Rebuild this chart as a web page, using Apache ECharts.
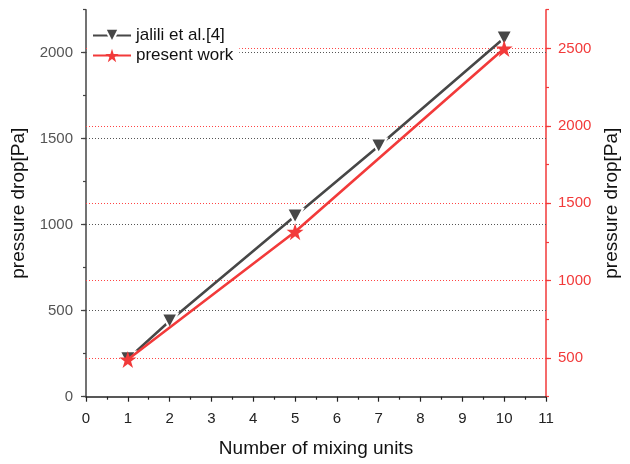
<!DOCTYPE html>
<html>
<head>
<meta charset="utf-8">
<script src="https://cdn.jsdelivr.net/npm/echarts@6/dist/echarts.min.js"></script>
<style>
  html, body { margin: 0; padding: 0; background: #fff; }
  #chart { width: 630px; height: 464px; }
</style>
</head>
<body>
<div id="chart"></div>
<script>
// Pressure drop against number of mixing units
const jaliliUnits = [1, 2, 5, 7, 10];
const jaliliDrop = [220, 440, 1050, 1458, 2085];
const presentUnits = [1, 5, 10];
const presentDrop = [490, 1315, 2500];

const xTicks = [0, 1, 2, 3, 4, 5, 6, 7, 8, 9, 10, 11];
const leftTicks = [0, 500, 1000, 1500, 2000];
const rightTicks = [500, 1000, 1500, 2000, 2500];
const leftGrid = [500, 1000, 1500, 2000];
const rightGrid = [500, 1000, 1500, 2000, 2500];

const GRAY = '#474747';
const RED = '#f23a3a';
const FONT = 'Liberation Sans, Arial, sans-serif';

const starPath = 'path://M10 0 L12.245 6.910 L19.511 6.910 L13.633 11.180 L15.878 18.090 L10 13.82 L4.122 18.090 L6.367 11.180 L0.489 6.910 L7.755 6.910 Z';

const chart = echarts.init(document.getElementById('chart'), null, { renderer: 'canvas' });

function pairs(xs, ys) { return xs.map((x, i) => [x, ys[i]]); }
const plain = v => String(v);

chart.setOption({
  animation: false,
  backgroundColor: '#fff',
  textStyle: { fontFamily: FONT },
  grid: { left: 86, right: 84, top: 9.7, bottom: 67.3, containLabel: false },
  legend: {
    orient: 'vertical',
    left: 88, top: 24,
    padding: [3, 6, 3, 4],
    backgroundColor: '#fff',
    itemWidth: 38, itemHeight: 17, itemGap: 3,
    textStyle: { fontFamily: FONT, fontSize: 17, color: '#111' },
    data: ['jalili et al.[4]', 'present work']
  },
  xAxis: {
    type: 'value', min: xTicks[0], max: xTicks[xTicks.length - 1], interval: 1,
    name: 'Number of mixing units', nameLocation: 'middle', nameGap: 43,
    nameTextStyle: { fontFamily: FONT, fontSize: 19, color: '#111' },
    axisLine: { show: true, lineStyle: { color: '#222', width: 1.5 } },
    axisTick: { show: true, length: 5, lineStyle: { color: '#222', width: 1.2 } },
    minorTick: { show: true, splitNumber: 2, length: 3, lineStyle: { color: '#222', width: 1.2 } },
    axisLabel: { fontFamily: FONT, fontSize: 15, color: '#222', margin: 15, formatter: plain },
    splitLine: { show: false }
  },
  yAxis: [
    {
      type: 'value', position: 'left', min: 0, max: 2250, interval: 250,
      name: 'pressure drop[Pa]', nameLocation: 'middle', nameGap: 50,
      nameTextStyle: { fontFamily: FONT, fontSize: 19, color: '#111' },
      axisLine: { show: true, lineStyle: { color: '#444', width: 1.5 } },
      axisTick: { show: true, length: 3, lineStyle: { color: '#444', width: 1.2 } },
      axisLabel: {
        fontFamily: FONT, fontSize: 15, color: '#555', margin: 13,
        customValues: leftTicks, formatter: plain
      },
      splitLine: { show: false }
    },
    {
      type: 'value', position: 'right', min: 250, max: 2750, interval: 250,
      name: 'pressure drop[Pa]', nameLocation: 'middle', nameGap: 48,
      nameTextStyle: { fontFamily: FONT, fontSize: 19, color: '#111' },
      axisLine: { show: true, lineStyle: { color: RED, width: 1.5 } },
      axisTick: { show: true, length: 3, lineStyle: { color: RED, width: 1.2 } },
      axisLabel: {
        fontFamily: FONT, fontSize: 15, color: RED, margin: 12,
        customValues: rightTicks, formatter: plain
      },
      splitLine: { show: false }
    },
    {
      // longer major ticks on the left scale
      type: 'value', position: 'left', min: 0, max: 2250,
      axisLine: { show: false },
      axisTick: { show: true, length: 5, customValues: leftTicks, lineStyle: { color: '#444', width: 1.2 } },
      axisLabel: { show: false },
      splitLine: { show: false }
    },
    {
      // longer major ticks on the right scale
      type: 'value', position: 'right', min: 250, max: 2750,
      axisLine: { show: false },
      axisTick: { show: true, length: 5, customValues: rightTicks, lineStyle: { color: RED, width: 1.2 } },
      axisLabel: { show: false },
      splitLine: { show: false }
    }
  ],
  series: [
    {
      name: 'jalili et al.[4]', type: 'line', yAxisIndex: 0,
      data: pairs(jaliliUnits, jaliliDrop),
      symbol: 'triangle', symbolRotate: 180, symbolSize: [16, 15],
      lineStyle: { color: GRAY, width: 2.6 },
      itemStyle: { color: GRAY, borderColor: '#fff', borderWidth: 2 },
      z: 3,
      markLine: {
        silent: true, symbol: 'none', z: 1,
        label: { show: false },
        lineStyle: { color: '#555', type: [1, 2], width: 1 },
        data: leftGrid.map(v => ({ yAxis: v }))
      }
    },
    {
      name: 'present work', type: 'line', yAxisIndex: 1,
      data: pairs(presentUnits, presentDrop),
      symbol: starPath, symbolSize: 17,
      lineStyle: { color: RED, width: 2.6 },
      itemStyle: { color: RED, borderWidth: 0 },
      z: 4,
      markLine: {
        silent: true, symbol: 'none', z: 1,
        label: { show: false },
        lineStyle: { color: '#f44', type: [1, 2], width: 1 },
        data: rightGrid.map(v => ({ yAxis: v }))
      }
    }
  ]
});
</script>
</body>
</html>
